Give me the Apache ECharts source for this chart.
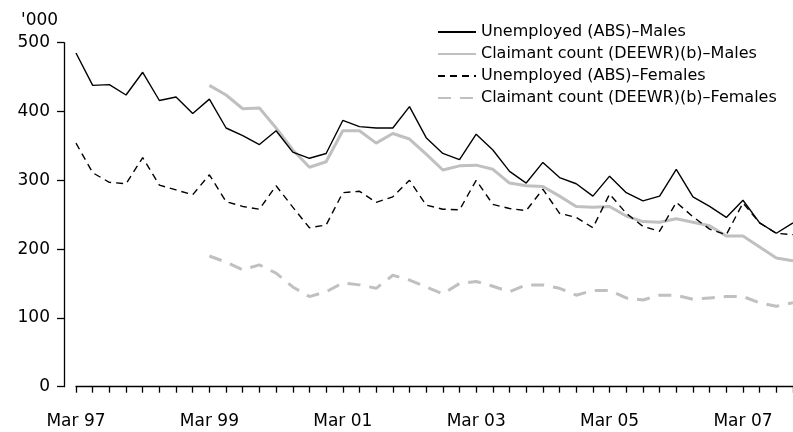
<!DOCTYPE html>
<html>
<head>
<meta charset="utf-8">
<script src="https://cdn.jsdelivr.net/npm/echarts@6/dist/echarts.min.js"></script>
<style>
html,body{margin:0;padding:0;background:#fff;}
#chart{width:793px;height:432px;}
</style>
</head>
<body>
<div id="chart"></div>
<script>
// Quarterly categories Mar 97 .. Dec 07
const years = ['97','98','99','00','01','02','03','04','05','06','07'];
const months = ['Mar','Jun','Sep','Dec'];
const categories = [];
years.forEach(y => months.forEach(m => categories.push(m + ' ' + y)));

const seriesNames = [
  'Unemployed (ABS)\u2013Males',
  'Claimant count (DEEWR)(b)\u2013Males',
  'Unemployed (ABS)\u2013Females',
  'Claimant count (DEEWR)(b)\u2013Females'
];

const unemployedMales = [485, 438, 439, 424, 457, 416, 421, 397, 418, 376, 365, 352,
  372, 341, 332, 339, 387, 378, 376, 376, 407, 362, 339, 330,
  367, 344, 313, 296, 326, 304, 295, 277, 306, 282, 270, 277,
  316, 276, 262, 246, 271, 238, 223, 238];

const claimantMales = [null, null, null, null, null, null, null, null,
  438, 424, 404, 405, 376, 344, 319, 327, 372, 372, 354, 368, 360, 338, 315, 321,
  322, 316, 296, 292, 291, 277, 262, 261, 262, 248, 240, 239,
  244, 239, 234, 219, 219, 203, 187, 183];

const unemployedFemales = [354, 311, 297, 295, 333, 293, 286, 279, 308, 269, 262, 258,
  292, 261, 231, 235, 282, 284, 268, 276, 300, 264, 258, 257,
  300, 265, 259, 256, 287, 252, 246, 231, 280, 252, 233, 226,
  268, 247, 229, 221, 267, 238, 223, 221];

const claimantFemales = [null, null, null, null, null, null, null, null,
  190, 181, 170, 177, 165, 145, 131, 138, 151, 148, 143, 162, 155, 145, 135, 150,
  153, 146, 138, 148, 148, 143, 133, 140, 140, 129, 126, 133,
  133, 127, 129, 131, 131, 122, 117, 122];

const yTicks = { min: 0, max: 500, interval: 100 };
const unitLabel = "'000";

const FONT = 'DejaVu Sans';
const chart = echarts.init(document.getElementById('chart'), null, {renderer: 'canvas'});
chart.setOption({
  animation: false,
  backgroundColor: '#fff',
  textStyle: { fontFamily: FONT },
  grid: { left: 76, right: 0, top: 42.7, bottom: 45.3, containLabel: false },
  graphic: [{
    type: 'text', left: 21, top: 12,
    style: { text: unitLabel, font: '17px ' + FONT, fill: '#000' }
  }],
  legend: {
    orient: 'vertical', left: 437, top: 24, align: 'left', padding: 0,
    itemWidth: 38, itemHeight: 14, itemGap: 6,
    itemStyle: { opacity: 0 },
    textStyle: { fontFamily: FONT, fontSize: 16, color: '#000', lineHeight: 16 },
    data: seriesNames
  },
  xAxis: {
    type: 'category', data: categories, boundaryGap: false, offset: 12,
    axisLine: { lineStyle: { color: '#000', width: 1.3 } },
    axisTick: { interval: 0, length: 6, lineStyle: { color: '#000', width: 1.3 } },
    axisLabel: { interval: 7, margin: 14, color: '#000', fontSize: 17, fontFamily: FONT },
    splitLine: { show: false }
  },
  yAxis: {
    type: 'value', min: yTicks.min, max: yTicks.max, interval: yTicks.interval, offset: 12,
    axisLine: { show: true, lineStyle: { color: '#000', width: 1.3 } },
    axisTick: { show: true, length: 7, lineStyle: { color: '#000', width: 1.3 } },
    axisLabel: { margin: 14, color: '#000', fontSize: 17, fontFamily: FONT },
    splitLine: { show: false }
  },
  series: [
    { name: seriesNames[0], type: 'line', data: unemployedMales, symbol: 'none', z: 4,
      lineStyle: { color: '#000', width: 1.4, type: 'solid' }, itemStyle: { color: '#000' } },
    { name: seriesNames[1], type: 'line', data: claimantMales, symbol: 'none', z: 3,
      lineStyle: { color: '#c0c0c0', width: 3, type: 'solid' }, itemStyle: { color: '#c0c0c0' } },
    { name: seriesNames[2], type: 'line', data: unemployedFemales, symbol: 'none', z: 4,
      lineStyle: { color: '#000', width: 1.4, type: [7, 5] }, itemStyle: { color: '#000' } },
    { name: seriesNames[3], type: 'line', data: claimantFemales, symbol: 'none', z: 3,
      lineStyle: { color: '#c0c0c0', width: 3, type: [13, 9] }, itemStyle: { color: '#c0c0c0' } }
  ]
});
</script>
</body>
</html>
